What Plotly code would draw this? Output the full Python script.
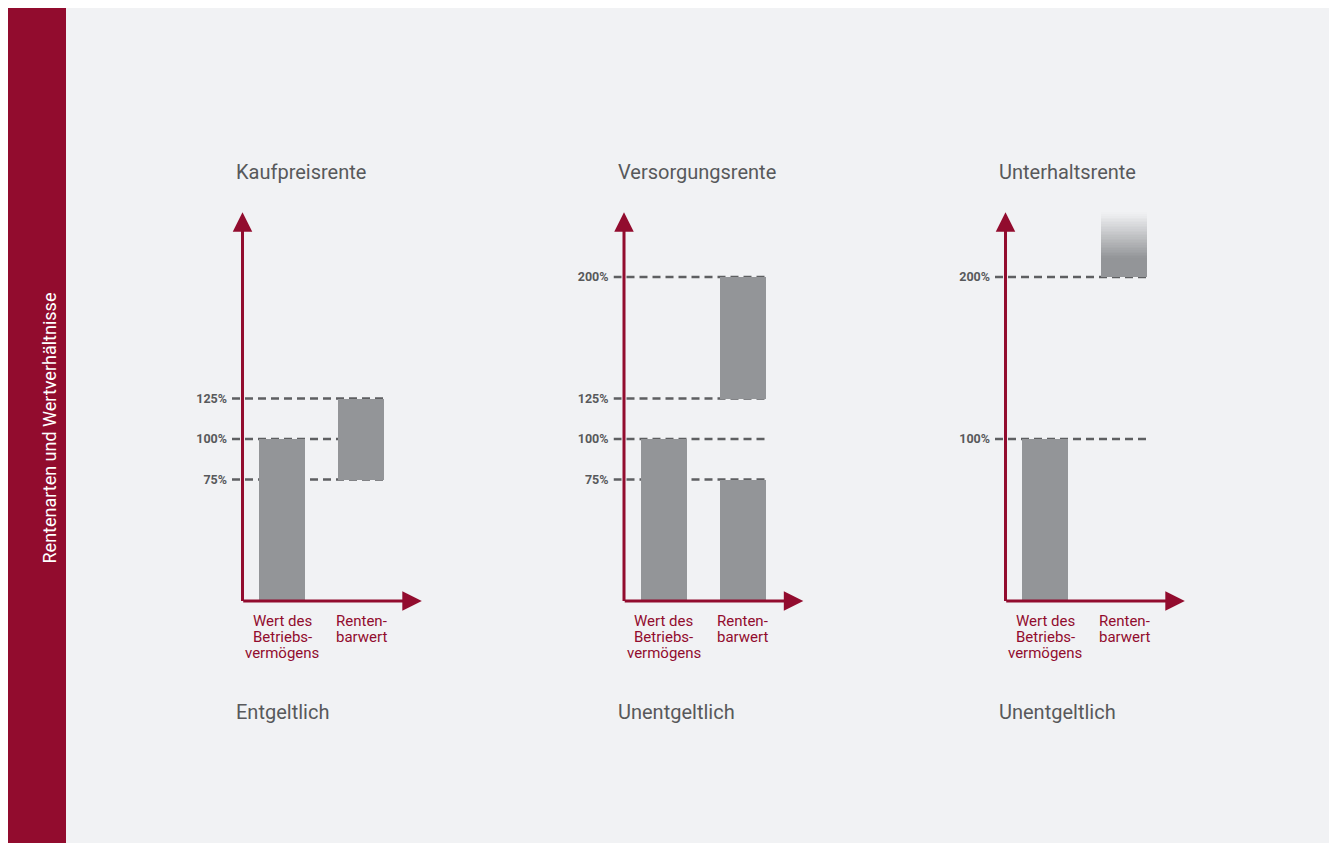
import plotly.graph_objects as go

# ---------------- data ----------------
panel_titles = ["Kaufpreisrente", "Versorgungsrente", "Unterhaltsrente"]
panel_subtitles = ["Entgeltlich", "Unentgeltlich", "Unentgeltlich"]
categories = [["Wert des", "Betriebs-", "vermögens"], ["Renten-", "barwert"]]
wert_values = [100, 100, 100]                     # Wert des Betriebsvermögens (from 0)
renten_bases = [[75], [0, 125], [200]]            # Rentenbarwert segment bases
renten_heights = [[50], [75, 75], [40]]           # Rentenbarwert segment heights
renten_fade = [False, False, True]                # open-ended (fading) upper bar
tick_values = [[75, 100, 125], [75, 100, 125, 200], [100, 200]]
sidebar_text = "Rentenarten und Wertverhältnisse"

# ---------------- style ----------------
OFF = 8                  # page body margin
W, H = 1337, 843
RED = "#920c2e"
BAR = "#939598"
BG = "#f1f2f4"
TXT = "#58595b"
DASH = "#5e5f61"
FONT = "Roboto"

PX_PER_UNIT = 79.0       # x pixels per category unit
PX_PER_PCT = 1.62        # y pixels per percent
BASE_PX = 601            # baseline pixel row (screen)
X_RANGE = [0.367, 2.81]
Y_RANGE = [-10, 250]
AXIS_X = 0.5
ARROW_X = 2.77
ARROW_Y = 240
BAR_W = 0.582
PANEL_LEFT = [232, 613.5, 995]   # screen px

fig = go.Figure()

def fx(px):
    return (px - OFF) / W

def fy(px):
    return 1 - (px - OFF) / H

shapes = []
annotations = []

# red sidebar
shapes.append(dict(type="rect", xref="paper", yref="paper", x0=fx(OFF), x1=fx(66), y0=0, y1=1,
                   fillcolor=RED, line_width=0, layer="below"))
annotations.append(dict(xref="paper", yref="paper", x=fx(37), y=fy(428), text=sidebar_text,
                        textangle=-90, showarrow=False, font=dict(family=FONT, size=18, color="white")))

for i in range(3):
    sfx = "" if i == 0 else str(i + 1)
    xa, ya = "x" + sfx, "y" + sfx
    left = PANEL_LEFT[i]
    right = left + (X_RANGE[1] - X_RANGE[0]) * PX_PER_UNIT
    bottom = BASE_PX - Y_RANGE[0] * PX_PER_PCT
    top = BASE_PX - Y_RANGE[1] * PX_PER_PCT
    fig.update_layout(**{
        "xaxis" + sfx: dict(domain=[fx(left), fx(right)], range=X_RANGE, anchor=ya,
                            showgrid=False, zeroline=False, showline=False, showticklabels=False,
                            fixedrange=True),
        "yaxis" + sfx: dict(domain=[fy(bottom), fy(top)], range=Y_RANGE, anchor=xa,
                            showgrid=False, zeroline=False, showline=False,
                            tickmode="array", tickvals=tick_values[i],
                            ticktext=["%d%%" % v for v in tick_values[i]], ticks="",
                            ticklabelstandoff=4,
                            tickfont=dict(family=FONT, size=12.5, color=TXT, weight="bold"),
                            fixedrange=True),
    })

    # bars
    fig.add_trace(go.Bar(x=[1], y=[wert_values[i]], base=[0], width=BAR_W, marker_color=BAR,
                         marker_line_width=0, xaxis=xa, yaxis=ya, showlegend=False, hoverinfo="skip"))
    for b, h in zip(renten_bases[i], renten_heights[i]):
        if not renten_fade[i]:
            fig.add_trace(go.Bar(x=[2], y=[h], base=[b], width=BAR_W, marker_color=BAR,
                                 marker_line_width=0, xaxis=xa, yaxis=ya, showlegend=False,
                                 hoverinfo="skip"))
        else:
            # solid lower part, then fade to background (styling of an open-ended bar)
            solid = h * 0.3
            fig.add_trace(go.Bar(x=[2], y=[solid], base=[b], width=BAR_W, marker_color=BAR,
                                 marker_line_width=0, xaxis=xa, yaxis=ya, showlegend=False,
                                 hoverinfo="skip"))
            n = 28
            c0 = (0x93, 0x95, 0x98)
            c1 = (0xf1, 0xf2, 0xf4)
            step = (h - solid) / n
            for k in range(n):
                t = (k + 0.5) / n
                col = "rgb(%d,%d,%d)" % tuple(round(a + (c - a) * t) for a, c in zip(c0, c1))
                fig.add_trace(go.Bar(x=[2], y=[step * 1.05], base=[b + solid + k * step],
                                     width=BAR_W, marker_color=col, marker_line_width=0,
                                     xaxis=xa, yaxis=ya, showlegend=False, hoverinfo="skip"))

    # dashed reference lines (below bars)
    for v in tick_values[i]:
        shapes.append(dict(type="line", xref=xa, yref=ya, x0=X_RANGE[0], x1=2 + BAR_W / 2,
                           y0=v, y1=v, line=dict(color=DASH, width=2.5, dash="8px,5px"),
                           layer="below"))

    # axes as arrows
    annotations.append(dict(xref=xa, yref=ya, axref=xa, ayref=ya, x=AXIS_X, y=ARROW_Y,
                            ax=AXIS_X, ay=-1, showarrow=True, arrowhead=2, arrowsize=1.3,
                            arrowwidth=3, arrowcolor=RED, text="", standoff=0))
    annotations.append(dict(xref=xa, yref=ya, axref=xa, ayref=ya, x=ARROW_X, y=0,
                            ax=AXIS_X - 0.01, ay=0, showarrow=True, arrowhead=2, arrowsize=1.3,
                            arrowwidth=3, arrowcolor=RED, text="", standoff=0))

    # category labels
    for ci, lines in enumerate(categories):
        for li, line in enumerate(lines):
            annotations.append(dict(xref=xa, yref=ya, x=ci + 1, y=0, text=line, showarrow=False,
                                    yanchor="middle", yshift=-20 - 16 * li,
                                    font=dict(family=FONT, size=15, color=RED)))

    # panel title and subtitle
    annotations.append(dict(xref="paper", yref="paper", x=fx(left + 2), y=fy(172),
                            xanchor="left", yanchor="middle", text=panel_titles[i], showarrow=False,
                            font=dict(family=FONT, size=20, color=TXT)))
    annotations.append(dict(xref="paper", yref="paper", x=fx(left + 2), y=fy(712),
                            xanchor="left", yanchor="middle", text=panel_subtitles[i],
                            showarrow=False, font=dict(family=FONT, size=20, color=TXT)))

fig.update_layout(
    width=W, height=H, margin=dict(l=0, r=0, t=0, b=0),
    paper_bgcolor=BG, plot_bgcolor="rgba(0,0,0,0)",
    barmode="overlay", bargap=0, showlegend=False,
    shapes=shapes, annotations=annotations,
)

fig.write_html("out.html", post_script="document.documentElement.style.overflow='hidden';")
